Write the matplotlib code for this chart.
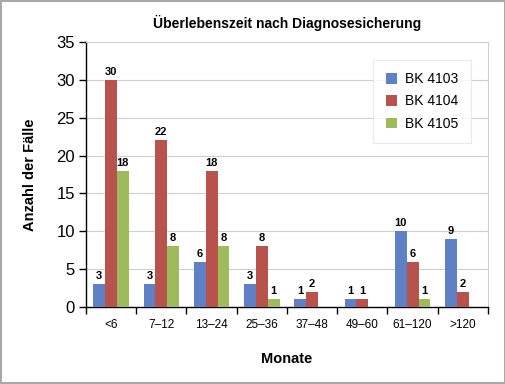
import matplotlib
matplotlib.use("Agg")
import matplotlib.pyplot as plt
import numpy as np
from matplotlib.patches import Rectangle

categories = ["<6", "7–12", "13–24", "25–36", "37–48", "49–60", "61–120", ">120"]
series_names = ["BK 4103", "BK 4104", "BK 4105"]
bk4103 = [3, 3, 6, 3, 1, 1, 10, 9]
bk4104 = [30, 22, 18, 8, 2, 1, 6, 2]
bk4105 = [18, 8, 8, 1, 0, 0, 1, 0]
colors = ["#6080C6", "#B8524C", "#9DBB5A"]
yticks = [0, 5, 10, 15, 20, 25, 30, 35]

plt.rcParams['font.family'] = ['Liberation Sans', 'DejaVu Sans']

fig = plt.figure(figsize=(5.06, 3.84), dpi=100)
ax = fig.add_axes([86/506, 77/384, 402/506, 265/384])

x = np.arange(len(categories))
w = 0.235
series = [bk4103, bk4104, bk4105]
for i, (vals, c, name) in enumerate(zip(series, colors, series_names)):
    pos = x + (i - 1) * w
    ax.bar(pos, vals, width=w, color=c, label=name, zorder=3, edgecolor='none')
    for p, v in zip(pos, vals):
        if v > 0:
            ax.text(p, v + 0.4, str(v), ha='center', va='bottom', fontsize=8,
                    fontweight='bold', zorder=4)

ax.set_xlim(-0.5, len(categories) - 0.5)
ax.set_ylim(0, 35)
ax.set_yticks(yticks)
ax.set_yticklabels([str(t) for t in yticks], fontsize=12)
ax.yaxis.grid(True, color='#CFCFCF', linewidth=0.8, zorder=0)
ax.set_axisbelow(True)

# category boundary ticks
ax.set_xticks(np.arange(-0.5, len(categories), 1.0))
ax.set_xticklabels([])
ax.set_xticks(x, minor=True)
ax.set_xticklabels(categories, minor=True, fontsize=8.5)
ax.tick_params(axis='x', which='major', length=5, width=1, direction='out')
ax.tick_params(axis='x', which='minor', length=0, pad=9)
ax.tick_params(axis='y', length=5, width=1, direction='out', pad=3)

for s in ['left', 'bottom']:
    ax.spines[s].set_color('black')
    ax.spines[s].set_linewidth(1)
for s in ['top', 'right']:
    ax.spines[s].set_color('#CFCFCF')
    ax.spines[s].set_linewidth(0.8)

ax.set_xlabel("Monate", fontsize=10.5, fontweight='bold', labelpad=15)
ax.set_ylabel("Anzahl der Fälle", fontsize=10.5, fontweight='bold', labelpad=14)
ax.set_title("Überlebenszeit nach Diagnosesicherung", fontsize=10, fontweight='bold', pad=10)

leg = ax.legend(loc='upper right', bbox_to_anchor=(0.975, 0.96), fontsize=10,
                handlelength=0.8, handleheight=0.8, frameon=True, fancybox=False,
                shadow=False, borderpad=0.9, labelspacing=0.6, handletextpad=0.6)
leg.get_frame().set_edgecolor('#E4E4E4')
leg.get_frame().set_linewidth(0.8)

fig.patches.append(Rectangle((0.002, 0.003), 0.996, 0.994, transform=fig.transFigure,
                             fill=False, edgecolor='#A8A8A8', linewidth=1.5))

fig.savefig("out.png", dpi=100)
